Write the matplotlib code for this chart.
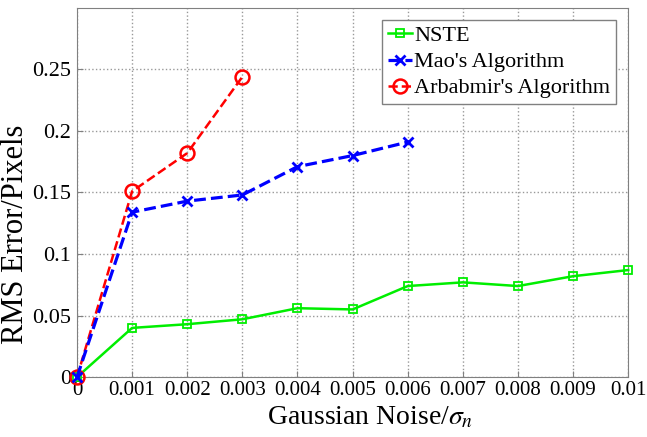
import matplotlib.pyplot as plt

plt.rcParams['font.family'] = ['Liberation Serif', 'DejaVu Serif']
plt.rcParams['mathtext.fontset'] = 'stix'

# data
noise = [0, 0.001, 0.002, 0.003, 0.004, 0.005, 0.006, 0.007, 0.008, 0.009, 0.01]
nste = [0, 0.040, 0.043, 0.047, 0.056, 0.055, 0.074, 0.077, 0.074, 0.082, 0.087]
mao_x = [0, 0.001, 0.002, 0.003, 0.004, 0.005, 0.006]
mao = [0, 0.134, 0.143, 0.148, 0.171, 0.180, 0.191]
arb_x = [0, 0.001, 0.002, 0.003]
arb = [0, 0.151, 0.182, 0.244]

xticks = [0, 0.001, 0.002, 0.003, 0.004, 0.005, 0.006, 0.007, 0.008, 0.009, 0.01]
xticklabels = ['0', '0.001', '0.002', '0.003', '0.004', '0.005', '0.006',
               '0.007', '0.008', '0.009', '0.01']
yticks = [0, 0.05, 0.1, 0.15, 0.2, 0.25]
yticklabels = ['0', '0.05', '0.1', '0.15', '0.2', '0.25']

fig = plt.figure(figsize=(6.47, 4.37), dpi=100)
ax = fig.add_axes([0.119, 0.137, 0.852, 0.845])

ax.plot(noise, nste, color='#00ee00', marker='s', markersize=6, markerfacecolor='none',
        markeredgewidth=1.3, linewidth=1.8, label='NSTE', clip_on=False, zorder=3)
ax.plot(mao_x, mao, color='#0000ff', linestyle='--', marker='x', markersize=7,
        markeredgewidth=2, linewidth=2.3, label="Mao's Algorithm", clip_on=False, zorder=5)
ax.plot(arb_x, arb, color='#ff0000', linestyle='--', marker='o', markersize=10,
        markerfacecolor='none', markeredgewidth=1.8, linewidth=1.8,
        label="Arbabmir's Algorithm", clip_on=False, zorder=4)

ax.set_xlim(0, 0.01)
ax.set_ylim(0, 0.3)
ax.set_xticks(xticks)
ax.set_xticklabels(xticklabels)
ax.set_yticks(yticks)
ax.set_yticklabels(yticklabels)
ax.tick_params(direction='in', color='#808080', length=4, pad=3)
ax.tick_params(axis='x', labelsize=15)
ax.tick_params(axis='y', labelsize=16, pad=4)
ax.grid(True, linestyle=':', color='#999999', linewidth=1)
for s in ax.spines.values():
    s.set_color('#808080')

ax.set_xlabel(r'Gaussian Noise/$\sigma_n$', fontsize=20)
ax.xaxis.set_label_coords(0.531, -0.075)
ax.set_ylabel('RMS Error/Pixels', fontsize=22)
ax.yaxis.set_label_coords(-0.085, 0.388)

leg = ax.legend(loc='upper right', fontsize=16, fancybox=False, framealpha=1,
                edgecolor='#808080', handlelength=1.1, handletextpad=0.1,
                borderpad=0.25, labelspacing=0.25, borderaxespad=0.55)

plt.savefig('out.png', dpi=100)
plt.close()
